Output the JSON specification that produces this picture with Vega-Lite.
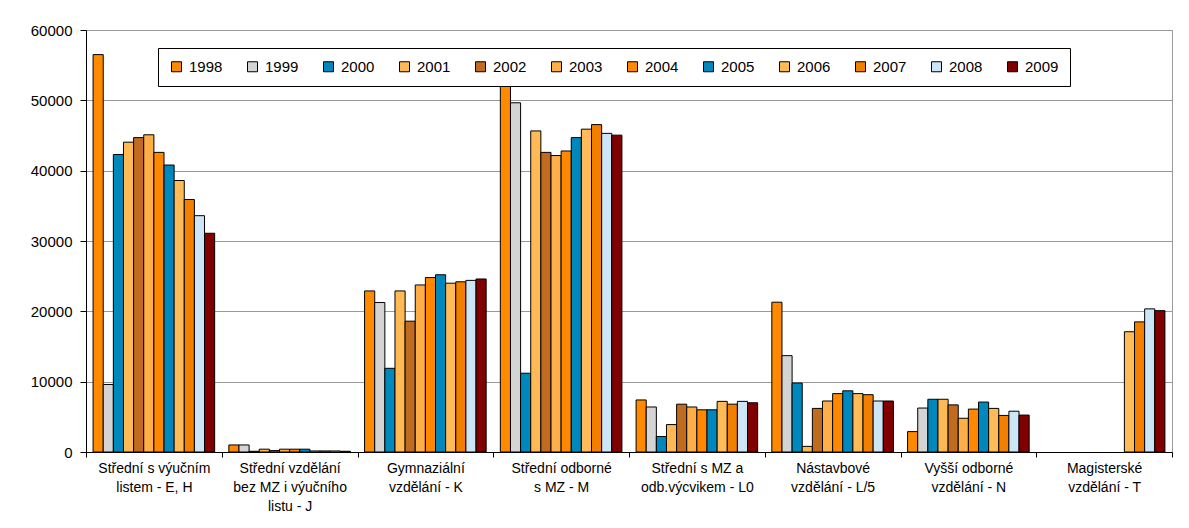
{
  "$schema": "https://vega.github.io/schema/vega-lite/v6.json",
  "width": 1086,
  "height": 422,
  "autosize": {"type": "none"},
  "padding": {"left": 86, "top": 30, "right": 17, "bottom": 76},
  "background": "white",
  "config": {
    "font": "Liberation Sans",
    "view": {"stroke": "#999999", "strokeWidth": 1}
  },
  "data": {
    "values": [
      {"c": "Střední s výučním|listem - E, H", "y": "1998", "v": 56500},
      {"c": "Střední s výučním|listem - E, H", "y": "1999", "v": 9600},
      {"c": "Střední s výučním|listem - E, H", "y": "2000", "v": 42300},
      {"c": "Střední s výučním|listem - E, H", "y": "2001", "v": 44050},
      {"c": "Střední s výučním|listem - E, H", "y": "2002", "v": 44700},
      {"c": "Střední s výučním|listem - E, H", "y": "2003", "v": 45100},
      {"c": "Střední s výučním|listem - E, H", "y": "2004", "v": 42600},
      {"c": "Střední s výučním|listem - E, H", "y": "2005", "v": 40800},
      {"c": "Střední s výučním|listem - E, H", "y": "2006", "v": 38600},
      {"c": "Střední s výučním|listem - E, H", "y": "2007", "v": 35900},
      {"c": "Střední s výučním|listem - E, H", "y": "2008", "v": 33600},
      {"c": "Střední s výučním|listem - E, H", "y": "2009", "v": 31100},
      {"c": "Střední vzdělání|bez MZ i výučního|listu - J", "y": "1998", "v": 1000},
      {"c": "Střední vzdělání|bez MZ i výučního|listu - J", "y": "1999", "v": 1000},
      {"c": "Střední vzdělání|bez MZ i výučního|listu - J", "y": "2000", "v": 100},
      {"c": "Střední vzdělání|bez MZ i výučního|listu - J", "y": "2001", "v": 400},
      {"c": "Střední vzdělání|bez MZ i výučního|listu - J", "y": "2002", "v": 200},
      {"c": "Střední vzdělání|bez MZ i výučního|listu - J", "y": "2003", "v": 400},
      {"c": "Střední vzdělání|bez MZ i výučního|listu - J", "y": "2004", "v": 400},
      {"c": "Střední vzdělání|bez MZ i výučního|listu - J", "y": "2005", "v": 400},
      {"c": "Střední vzdělání|bez MZ i výučního|listu - J", "y": "2006", "v": 150},
      {"c": "Střední vzdělání|bez MZ i výučního|listu - J", "y": "2007", "v": 150},
      {"c": "Střední vzdělání|bez MZ i výučního|listu - J", "y": "2008", "v": 150},
      {"c": "Střední vzdělání|bez MZ i výučního|listu - J", "y": "2009", "v": 100},
      {"c": "Gymnaziální|vzdělání - K", "y": "1998", "v": 22900},
      {"c": "Gymnaziální|vzdělání - K", "y": "1999", "v": 21250},
      {"c": "Gymnaziální|vzdělání - K", "y": "2000", "v": 11900},
      {"c": "Gymnaziální|vzdělání - K", "y": "2001", "v": 22900},
      {"c": "Gymnaziální|vzdělání - K", "y": "2002", "v": 18600},
      {"c": "Gymnaziální|vzdělání - K", "y": "2003", "v": 23750},
      {"c": "Gymnaziální|vzdělání - K", "y": "2004", "v": 24800},
      {"c": "Gymnaziální|vzdělání - K", "y": "2005", "v": 25200},
      {"c": "Gymnaziální|vzdělání - K", "y": "2006", "v": 24000},
      {"c": "Gymnaziální|vzdělání - K", "y": "2007", "v": 24200},
      {"c": "Gymnaziální|vzdělání - K", "y": "2008", "v": 24400},
      {"c": "Gymnaziální|vzdělání - K", "y": "2009", "v": 24600},
      {"c": "Střední odborné|s MZ - M", "y": "1998", "v": 54000},
      {"c": "Střední odborné|s MZ - M", "y": "1999", "v": 49650},
      {"c": "Střední odborné|s MZ - M", "y": "2000", "v": 11200},
      {"c": "Střední odborné|s MZ - M", "y": "2001", "v": 45650},
      {"c": "Střední odborné|s MZ - M", "y": "2002", "v": 42600},
      {"c": "Střední odborné|s MZ - M", "y": "2003", "v": 42150},
      {"c": "Střední odborné|s MZ - M", "y": "2004", "v": 42800},
      {"c": "Střední odborné|s MZ - M", "y": "2005", "v": 44700},
      {"c": "Střední odborné|s MZ - M", "y": "2006", "v": 45900},
      {"c": "Střední odborné|s MZ - M", "y": "2007", "v": 46550},
      {"c": "Střední odborné|s MZ - M", "y": "2008", "v": 45300},
      {"c": "Střední odborné|s MZ - M", "y": "2009", "v": 45050},
      {"c": "Střední s MZ a|odb.výcvikem - L0", "y": "1998", "v": 7400},
      {"c": "Střední s MZ a|odb.výcvikem - L0", "y": "1999", "v": 6400},
      {"c": "Střední s MZ a|odb.výcvikem - L0", "y": "2000", "v": 2200},
      {"c": "Střední s MZ a|odb.výcvikem - L0", "y": "2001", "v": 3900},
      {"c": "Střední s MZ a|odb.výcvikem - L0", "y": "2002", "v": 6800},
      {"c": "Střední s MZ a|odb.výcvikem - L0", "y": "2003", "v": 6400},
      {"c": "Střední s MZ a|odb.výcvikem - L0", "y": "2004", "v": 6000},
      {"c": "Střední s MZ a|odb.výcvikem - L0", "y": "2005", "v": 6000},
      {"c": "Střední s MZ a|odb.výcvikem - L0", "y": "2006", "v": 7200},
      {"c": "Střední s MZ a|odb.výcvikem - L0", "y": "2007", "v": 6800},
      {"c": "Střední s MZ a|odb.výcvikem - L0", "y": "2008", "v": 7200},
      {"c": "Střední s MZ a|odb.výcvikem - L0", "y": "2009", "v": 7000},
      {"c": "Nástavbové|vzdělání - L/5", "y": "1998", "v": 21300},
      {"c": "Nástavbové|vzdělání - L/5", "y": "1999", "v": 13700},
      {"c": "Nástavbové|vzdělání - L/5", "y": "2000", "v": 9800},
      {"c": "Nástavbové|vzdělání - L/5", "y": "2001", "v": 800},
      {"c": "Nástavbové|vzdělání - L/5", "y": "2002", "v": 6200},
      {"c": "Nástavbové|vzdělání - L/5", "y": "2003", "v": 7250},
      {"c": "Nástavbové|vzdělání - L/5", "y": "2004", "v": 8300},
      {"c": "Nástavbové|vzdělání - L/5", "y": "2005", "v": 8700},
      {"c": "Nástavbové|vzdělání - L/5", "y": "2006", "v": 8300},
      {"c": "Nástavbové|vzdělání - L/5", "y": "2007", "v": 8150},
      {"c": "Nástavbové|vzdělání - L/5", "y": "2008", "v": 7250},
      {"c": "Nástavbové|vzdělání - L/5", "y": "2009", "v": 7250},
      {"c": "Vyšší odborné|vzdělání - N", "y": "1998", "v": 2900},
      {"c": "Vyšší odborné|vzdělání - N", "y": "1999", "v": 6250},
      {"c": "Vyšší odborné|vzdělání - N", "y": "2000", "v": 7500},
      {"c": "Vyšší odborné|vzdělání - N", "y": "2001", "v": 7500},
      {"c": "Vyšší odborné|vzdělání - N", "y": "2002", "v": 6700},
      {"c": "Vyšší odborné|vzdělání - N", "y": "2003", "v": 4800},
      {"c": "Vyšší odborné|vzdělání - N", "y": "2004", "v": 6100},
      {"c": "Vyšší odborné|vzdělání - N", "y": "2005", "v": 7100},
      {"c": "Vyšší odborné|vzdělání - N", "y": "2006", "v": 6200},
      {"c": "Vyšší odborné|vzdělání - N", "y": "2007", "v": 5200},
      {"c": "Vyšší odborné|vzdělání - N", "y": "2008", "v": 5800},
      {"c": "Vyšší odborné|vzdělání - N", "y": "2009", "v": 5250},
      {"c": "Magisterské|vzdělání - T", "y": "2006", "v": 17100},
      {"c": "Magisterské|vzdělání - T", "y": "2007", "v": 18500},
      {"c": "Magisterské|vzdělání - T", "y": "2008", "v": 20350},
      {"c": "Magisterské|vzdělání - T", "y": "2009", "v": 20100}
    ]
  },
  "mark": {"type": "bar", "stroke": "black", "strokeWidth": 1},
  "encoding": {
    "x": {
      "field": "c",
      "type": "nominal",
      "sort": null,
      "scale": {"paddingInner": 0, "paddingOuter": 0},
      "axis": {
        "title": null,
        "labelAngle": 0,
        "tickBand": "extent",
        "labelExpr": "datum.value ? split(datum.value, '|') : ''",
        "labelFontSize": 14,
        "labelLineHeight": 19,
        "labelPadding": 4,
        "labelColor": "black",
        "labelOverlap": false,
        "labelBound": false,
        "labelLimit": 0,
        "domainColor": "black",
        "tickColor": "black",
        "tickSize": 5,
        "grid": false
      }
    },
    "xOffset": {
      "field": "y",
      "type": "nominal",
      "sort": null,
      "scale": {"paddingInner": 0, "paddingOuter": 0.7}
    },
    "y": {
      "field": "v",
      "type": "quantitative",
      "scale": {"domain": [0, 60000], "nice": false},
      "axis": {
        "title": null,
        "values": [0, 10000, 20000, 30000, 40000, 50000, 60000],
        "format": "d",
        "grid": true,
        "gridColor": "#999999",
        "gridWidth": 1,
        "domainColor": "black",
        "tickColor": "black",
        "tickSize": 6,
        "labelPadding": 8,
        "labelFontSize": 15,
        "labelColor": "black"
      }
    },
    "color": {
      "field": "y",
      "type": "nominal",
      "scale": {
        "domain": ["1998", "1999", "2000", "2001", "2002", "2003", "2004", "2005", "2006", "2007", "2008", "2009"],
        "range": ["#FF8A00", "#D4D4D4", "#0088BC", "#FFB955", "#C06B20", "#FFAE48", "#FF8800", "#0088BC", "#FFBB58", "#F27F00", "#CDE6F7", "#800000"]
      },
      "legend": {
        "title": null,
        "orient": "none",
        "legendX": 72,
        "legendY": 18,
        "direction": "horizontal",
        "columns": 12,
        "columnPadding": 22,
        "padding": 11,
        "fillColor": "white",
        "strokeColor": "black",
        "symbolType": "square",
        "symbolSize": 100,
        "symbolStrokeColor": "black",
        "symbolStrokeWidth": 1,
        "labelFontSize": 15,
        "labelColor": "black",
        "labelOffset": 5
      }
    }
  }
}
